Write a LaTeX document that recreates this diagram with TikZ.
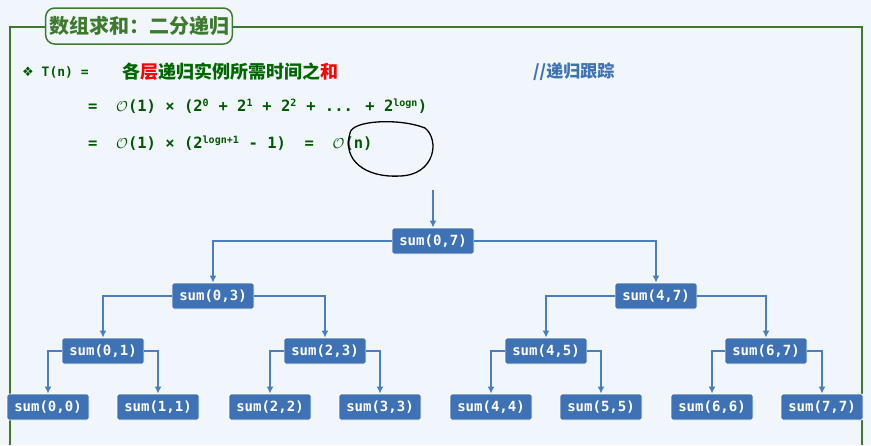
\documentclass[tikz,border=0pt]{standalone}
\usepackage{fontspec}
\usetikzlibrary{arrows.meta}
\newfontfamily\cjk{Noto Sans CJK SC}
\newfontfamily\mono{DejaVu Sans Mono}
\newfontfamily\dvs{DejaVu Sans}
\newcommand{\sps}[1]{\textsuperscript{\fontsize{10}{11}\selectfont #1}}
\begin{document}
\begin{tikzpicture}[x=1pt,y=-1pt,
  sumbox/.style={draw=white,line width=0.8pt,fill=nb,rounded corners=2pt,minimum width=82pt,minimum height=26pt,text=white,font=\mono\bfseries\fontsize{14}{16}\selectfont,inner sep=2pt},
  link/.style={draw=ln,color=ln,line width=1.4pt,-{Latex[length=7pt,width=7pt]}},
  formula/.style={anchor=west,text=green!35!black,font=\mono\bfseries\fontsize{15.5}{18}\selectfont,inner sep=0pt}]
\definecolor{bg}{HTML}{F1F6FC}
\definecolor{fr}{HTML}{3E7A2E}
\definecolor{nb}{HTML}{3F72B4}
\definecolor{ln}{HTML}{4A7EC0}
\fill[bg] (0,0) rectangle (871,445);
\useasboundingbox (0,0) rectangle (871,445);
\draw[fr,line width=1.5pt] (10,445) -- (10,27) -- (862,27) -- (862,445);
\node[draw=fr,line width=1.5pt,fill=bg,rounded corners=9pt,minimum width=182pt,minimum height=36pt,text=fr,font=\cjk\bfseries\fontsize{20}{22}\selectfont] (title) at (139,26) {数组求和：二分递归};
\node[anchor=west,inner sep=0pt,text=green!35!black,font=\mono\bfseries\fontsize{13}{15}\selectfont] (t1) at (22,72) {{\dvs ❖} T(n) =};
\node[anchor=west,inner sep=0pt,font=\cjk\bfseries\fontsize{18}{20}\selectfont,text=green!40!black] (t2) at (122,72) {各\textcolor{red}{层}递归实例所需时间之\textcolor{red}{和}};
\node[anchor=west,inner sep=0pt,font=\cjk\bfseries\fontsize{17}{20}\selectfont,text=nb] (t3) at (533,72) {//递归跟踪};
\node[formula] (l2) at (88,106) {=\ \ $\mathcal{O}$(1) × (2\sps{0} + 2\sps{1} + 2\sps{2} + ... + 2\sps{logn})};
\node[formula] (l3) at (88,143) {=\ \ $\mathcal{O}$(1) × (2\sps{logn+1} - 1)\ \ =\ \ $\mathcal{O}$(n)};
\draw[black,line width=1.3pt] (350,133) .. controls (352,120) and (400,118) .. (425,128) .. controls (440,140) and (435,175) .. (400,176) .. controls (365,178) and (342,160) .. (350,133);
\node[sumbox] (r) at (433,241) {sum(0,7)};
\node[sumbox] (a) at (213,296) {sum(0,3)};
\node[sumbox] (b) at (656,296) {sum(4,7)};
\node[sumbox] (a1) at (103,351) {sum(0,1)};
\node[sumbox] (a2) at (325,351) {sum(2,3)};
\node[sumbox] (b1) at (546,351) {sum(4,5)};
\node[sumbox] (b2) at (766,351) {sum(6,7)};
\node[sumbox] (c0) at (48,407) {sum(0,0)};
\node[sumbox] (c1) at (158,407) {sum(1,1)};
\node[sumbox] (c2) at (270,407) {sum(2,2)};
\node[sumbox] (c3) at (380,407) {sum(3,3)};
\node[sumbox] (c4) at (491,407) {sum(4,4)};
\node[sumbox] (c5) at (601,407) {sum(5,5)};
\node[sumbox] (c6) at (712,407) {sum(6,6)};
\node[sumbox] (c7) at (822,407) {sum(7,7)};
\coordinate (in) at (433,190);
\draw[link] (in) -- (r);
\foreach \p/\c in {r/a,r/b,a/a1,a/a2,b/b1,b/b2,a1/c0,a1/c1,a2/c2,a2/c3,b1/c4,b1/c5,b2/c6,b2/c7}
  \draw[link] (\p) -| (\c);
\end{tikzpicture}
\end{document}
